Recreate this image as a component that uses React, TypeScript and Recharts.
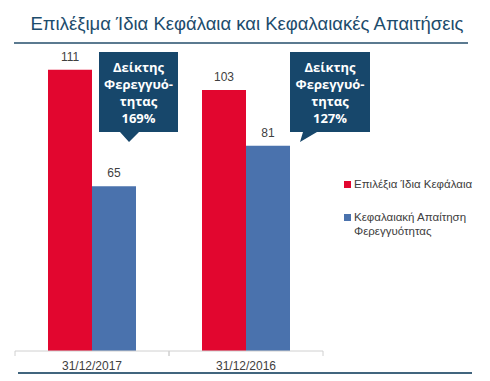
import React from 'react';
import { BarChart, Bar, XAxis, YAxis, LabelList } from 'recharts';

const categories = ['31/12/2017', '31/12/2016'];
const ownFunds = [111, 103];
const capitalRequirement = [65, 81];
const solvencyRatio = ['169%', '127%'];

const seriesNames = ['Επιλέξια Ίδια Κεφάλαια', 'Κεφαλαιακή Απαίτηση Φερεγγυότητας'];
const title = 'Επιλέξιμα Ίδια Κεφάλαια και Κεφαλαιακές Απαιτήσεις';
const calloutLines = ['Δείκτης', 'Φερεγγυό-', 'τητας'];

const RED = '#e2062f';
const BLUE = '#4a72ad';
const NAVY = '#17476b';
const TEXT = '#404040';
const FONT = '"Liberation Sans", Arial, sans-serif';

// callout placement relative to the category centre
const calloutLayout = [
  { dx: 7, top: 52, w: 79, h: 80, base: [21, 40], tip: 30 },
  { dx: 44, top: 52, w: 80, h: 80, base: [13, 27], tip: 10 },
];

const data = categories.map((c, i) => ({
  name: c,
  own: ownFunds[i],
  req: capitalRequirement[i],
  ratio: solvencyRatio[i],
}));

const CategoryTick = (props: any) => {
  const { x, y, payload } = props;
  const half = payload && payload.offset ? payload.offset : 77;
  return (
    <g>
      <line x1={x - half} y1={y - 8} x2={x - half} y2={y - 3} stroke="#d0d0d0" />
      <line x1={x + half} y1={y - 8} x2={x + half} y2={y - 3} stroke="#d0d0d0" />
      <text x={x} y={y + 11} textAnchor="middle" fill={TEXT} fontSize={12} fontFamily={FONT}>
        {payload.value}
      </text>
    </g>
  );
};

const Callout = (props: any) => {
  const { x, width, index } = props;
  const l = calloutLayout[index];
  if (!l) return null;
  const center = x + width;
  const left = center + l.dx;
  const bottom = l.top + l.h;
  const path = `M${left},${l.top} H${left + l.w} V${bottom} H${left + l.base[1]} L${left + l.tip},${bottom + 10} L${left + l.base[0]},${bottom} H${left} Z`;
  const lines = [...calloutLines, solvencyRatio[index]];
  const cx = left + l.w / 2;
  return (
    <g>
      <path d={path} fill={NAVY} />
      {lines.map((t, i) => (
        <text
          key={i}
          x={cx}
          y={l.top + 20 + i * 17}
          textAnchor="middle"
          fill="#ffffff"
          fontSize={13}
          fontWeight="bold"
          fontFamily='"Open Sans", sans-serif'
        >
          {t}
        </text>
      ))}
    </g>
  );
};

const ChartLegend = () => (
  <div
    style={{
      position: 'absolute',
      left: 344,
      top: 177,
      width: 140,
      fontFamily: FONT,
      fontSize: 11.5,
      color: TEXT,
      lineHeight: '14px',
    }}
  >
    <div style={{ display: 'flex', alignItems: 'flex-start', marginBottom: 19 }}>
      <span style={{ width: 7, height: 7, background: RED, marginTop: 4, marginRight: 3, flexShrink: 0 }} />
      <span>{seriesNames[0]}</span>
    </div>
    <div style={{ display: 'flex', alignItems: 'flex-start' }}>
      <span style={{ width: 7, height: 7, background: BLUE, marginTop: 4, marginRight: 3, flexShrink: 0 }} />
      <span style={{ width: 125 }}>{seriesNames[1]}</span>
    </div>
  </div>
);

export default function App() {
  return (
    <div style={{ position: 'fixed', left: 0, top: 0, width: 490, height: 381, background: '#fff' }}>
      <div
        style={{
          position: 'absolute',
          left: 0,
          top: 13,
          width: 494,
          textAlign: 'center',
          fontFamily: FONT,
          fontSize: 18.5,
          color: '#1d4c6c',
        }}
      >
        {title}
      </div>
      <div style={{ position: 'absolute', left: 14, top: 42, width: 454, height: 1.5, background: '#5b7a90' }} />
      <div style={{ position: 'absolute', left: 18, top: 372, width: 454, height: 1.5, background: '#41657e' }} />
      <div style={{ position: 'absolute', left: 0, top: 0 }}>
        <BarChart
          width={490}
          height={381}
          data={data}
          margin={{ top: 47, right: 167, left: 15, bottom: 0 }}
          barCategoryGap={33}
          barGap={0}
        >
          <XAxis
            dataKey="name"
            height={30}
            axisLine={{ stroke: '#d0d0d0' }}
            tickLine={false}
            tick={<CategoryTick />}
            interval={0}
          />
          <YAxis hide domain={[0, 120]} />
          <Bar dataKey="own" name={seriesNames[0]} fill={RED} isAnimationActive={false}>
            <LabelList dataKey="own" position="top" offset={9} fill={TEXT} fontSize={12} fontFamily={FONT} />
            <LabelList dataKey="ratio" content={<Callout />} />
          </Bar>
          <Bar dataKey="req" name={seriesNames[1]} fill={BLUE} isAnimationActive={false}>
            <LabelList dataKey="req" position="top" offset={9} fill={TEXT} fontSize={12} fontFamily={FONT} />
          </Bar>
        </BarChart>
      </div>
      <ChartLegend />
    </div>
  );
}
